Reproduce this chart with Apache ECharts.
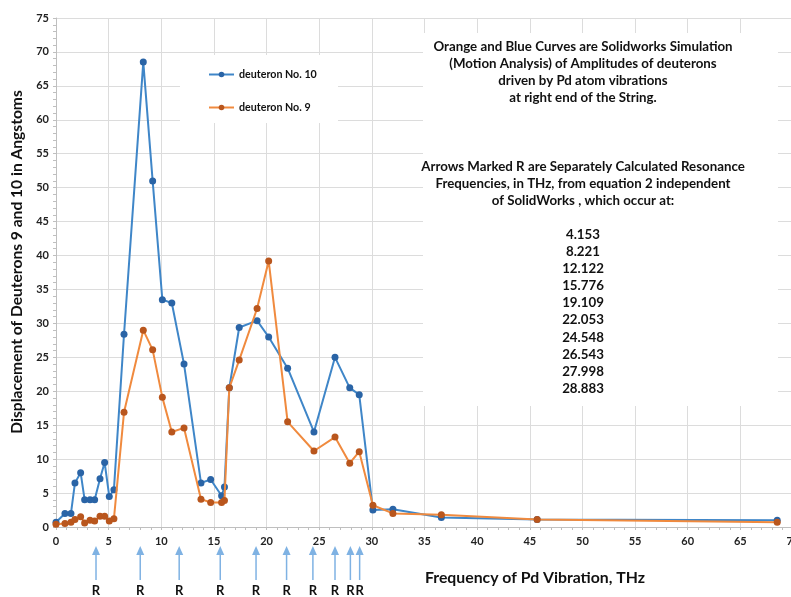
<!DOCTYPE html>
<html>
<head>
<meta charset="utf-8">
<script src="https://cdn.jsdelivr.net/npm/echarts@6/dist/echarts.min.js"></script>
<style>html,body{margin:0;padding:0;background:#fff;}#c{width:791px;height:597px;}</style>
</head>
<body>
<div id="c"></div>
<script>
// Frequency (THz) of each simulated point
var freq = [0, 0.85, 1.42, 1.8, 2.34, 2.72, 3.23, 3.67, 4.18, 4.62, 5.06, 5.5, 6.46, 8.29, 9.18, 10.1, 11.0, 12.16, 13.77, 14.69, 15.73, 16.0, 16.46, 17.4, 19.1, 20.2, 22.0, 24.5, 26.5, 27.9, 28.8, 30.1, 32.0, 36.6, 45.7, 68.5];
// deuteron No. 10 displacement (Angstroms)
var deut10 = [0.7, 2.0, 2.0, 6.5, 8.0, 4.0, 4.0, 4.0, 7.1, 9.5, 4.5, 5.5, 28.4, 68.5, 51.0, 33.5, 33.0, 24.0, 6.5, 7.0, 4.6, 5.9, 20.5, 29.4, 30.4, 28.0, 23.4, 14.0, 25.0, 20.5, 19.5, 2.5, 2.6, 1.4, 1.1, 1.0];
// deuteron No. 9 displacement (Angstroms)
var deut9 = [0.4, 0.5, 0.7, 1.1, 1.5, 0.6, 1.0, 0.9, 1.6, 1.6, 0.9, 1.2, 16.9, 29.0, 26.1, 19.1, 14.0, 14.6, 4.1, 3.6, 3.6, 3.9, 20.5, 24.6, 32.2, 39.2, 15.5, 11.2, 13.25, 9.4, 11.1, 3.2, 2.0, 1.8, 1.1, 0.7];
// Resonance frequencies listed in the note
var resonance = ['4.153', '8.221', '12.122', '15.776', '19.109', '22.053', '24.548', '26.543', '27.998', '28.883'];
// Arrow positions as drawn under the axis
var arrowX = [3.8, 8.0, 11.7, 15.6, 19.0, 21.9, 24.4, 26.5, 27.96, 28.84];
var seriesNames = ['deuteron No. 10', 'deuteron No. 9'];

function pairs(xs, ys) { return xs.map(function (x, i) { return [x, ys[i]]; }); }

var noteLines = [
  'Orange and Blue Curves are Solidworks Simulation',
  '(Motion Analysis) of Amplitudes of deuterons',
  'driven by Pd atom vibrations',
  'at right end of the String.',
  '', '', '',
  'Arrows Marked R are Separately Calculated Resonance',
  'Frequencies, in THz, from equation 2 independent',
  'of SolidWorks , which occur at:',
  ''
].concat(resonance);

var FONT = 'Lato, "Open Sans", sans-serif';
var chart = echarts.init(document.getElementById('c'), null, {renderer: 'canvas'});
chart.setOption({
  animation: false,
  backgroundColor: '#fff',
  grid: [
    {left: 56, right: -2, top: 18, bottom: 70, containLabel: false, outerBoundsMode: 'none'},
    {left: 56, right: -2, top: 546, height: 34, containLabel: false, outerBoundsMode: 'none'}
  ],
  legend: {
    orient: 'vertical', left: 203, top: 64, itemWidth: 25, itemHeight: 7, itemGap: 22,
    textStyle: {fontFamily: FONT, fontWeight: 'bold', fontSize: 10.7, color: '#111'},
    data: seriesNames, z: 10
  },
  xAxis: [{
    type: 'value', gridIndex: 0, min: 0, max: 70, interval: 5,
    axisLine: {lineStyle: {color: '#bfbfbf'}},
    axisTick: {show: true, length: 3, lineStyle: {color: '#bfbfbf'}},
    minorTick: {show: true, splitNumber: 5, length: 3, lineStyle: {color: '#bfbfbf'}},
    splitLine: {show: true, lineStyle: {color: '#dcdcdc'}},
    axisLabel: {fontFamily: FONT, fontWeight: 'bold', fontSize: 11, color: '#222', margin: 9, hideOverlap: false}
  }, {
    type: 'value', gridIndex: 1, min: 0, max: 70, show: false
  }],
  yAxis: [{
    type: 'value', gridIndex: 0, min: 0, max: 75, interval: 5,
    axisLine: {show: true, lineStyle: {color: '#bfbfbf'}},
    axisTick: {show: true, length: 3, lineStyle: {color: '#bfbfbf'}},
    minorTick: {show: true, splitNumber: 5, length: 3, lineStyle: {color: '#bfbfbf'}},
    splitLine: {show: true, lineStyle: {color: '#dcdcdc'}},
    axisLabel: {fontFamily: FONT, fontWeight: 'bold', fontSize: 11, color: '#222', margin: 7}
  }, {
    type: 'value', gridIndex: 1, min: 0, max: 1, show: false
  }],
  series: [{
    name: seriesNames[0], type: 'line', xAxisIndex: 0, yAxisIndex: 0,
    data: pairs(freq, deut10), symbol: 'circle', symbolSize: 7,
    lineStyle: {color: '#3f86c8', width: 2},
    itemStyle: {color: '#2a64a6'}, z: 3
  }, {
    name: seriesNames[1], type: 'line', xAxisIndex: 0, yAxisIndex: 0,
    data: pairs(freq, deut9), symbol: 'circle', symbolSize: 7,
    lineStyle: {color: '#f08a3e', width: 2},
    itemStyle: {color: '#b9561d'}, z: 4
  }, {
    type: 'custom', xAxisIndex: 1, yAxisIndex: 1, clip: false,
    data: arrowX.map(function (x) { return [x]; }),
    renderItem: function (params, api) {
      var x = api.value(0);
      var b = api.coord([x, 0]);
      var t = api.coord([x, 1]);
      var col = '#7fb2e3';
      return {
        type: 'group',
        children: [
          {type: 'line', shape: {x1: b[0], y1: b[1], x2: t[0], y2: t[1] + 6}, style: {stroke: col, lineWidth: 1.5}},
          {type: 'polygon', shape: {points: [[t[0], t[1]], [t[0] - 4, t[1] + 9], [t[0] + 4, t[1] + 9]]}, style: {fill: col}},
          {type: 'text', style: {text: 'R', x: b[0], y: b[1] + 11, align: 'center', verticalAlign: 'middle',
            font: 'bold 13px ' + FONT, fill: '#111'}}
        ]
      };
    }
  }],
  graphic: [
    {type: 'rect', z: 1, shape: {x: 180, y: 55, width: 158, height: 68}, style: {fill: '#fff'}},
    {type: 'rect', z: 1, shape: {x: 423, y: 33, width: 355, height: 373}, style: {fill: '#fff'}},
    {type: 'text', z: 5, x: 583, y: 38, style: {
      text: noteLines.join('\n'), align: 'center', verticalAlign: 'top', lineHeight: 17.1,
      font: 'bold 13.3px ' + FONT, fill: '#111'}},
    {type: 'text', z: 5, x: 535, y: 578, style: {
      text: 'Frequency of Pd Vibration, THz', align: 'center', verticalAlign: 'middle',
      font: 'bold 15.8px ' + FONT, fill: '#111'}},
    {type: 'text', z: 5, x: 17, y: 262, rotation: Math.PI / 2, style: {
      text: 'Displacement of Deuterons 9 and 10 in Angstoms', align: 'center', verticalAlign: 'middle',
      font: 'bold 15.6px ' + FONT, fill: '#111'}}
  ]
});
</script>
</body>
</html>
